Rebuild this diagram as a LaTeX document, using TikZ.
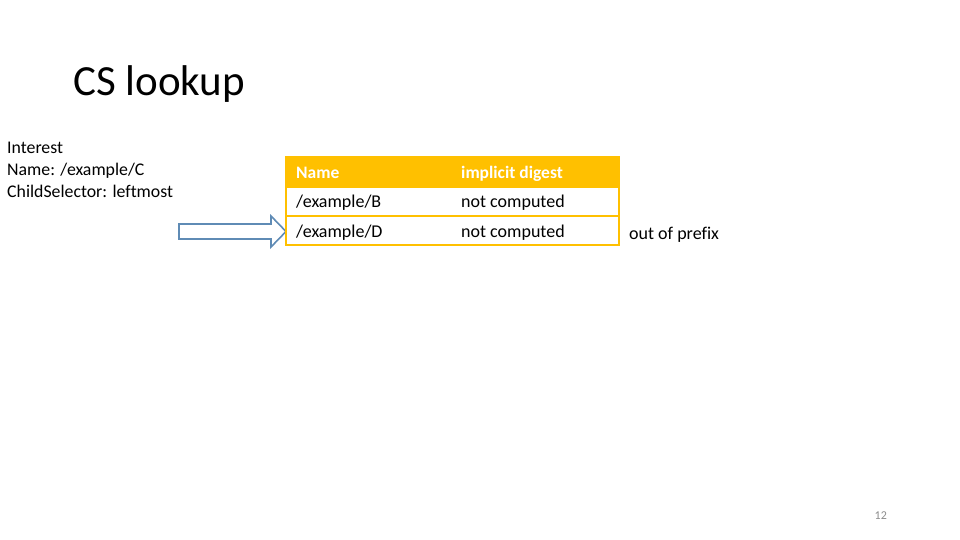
\documentclass[tikz,border=0pt]{standalone}
\usepackage{fontspec}
\setmainfont[Ligatures=NoCommon]{Carlito}
\definecolor{tblorange}{HTML}{FFC000}
\definecolor{arrowblue}{HTML}{5F8BB5}
\definecolor{pagegray}{HTML}{8C8C8C}
\begin{document}
\begin{tikzpicture}[x=1pt,y=-1pt,
  txt/.style={anchor=base west, inner sep=0pt, font=\fontsize{17.8}{21}\selectfont},
  tbltxt/.style={anchor=base west, inner sep=0pt, font=\fontsize{18}{21}\selectfont},
  hdrtxt/.style={tbltxt, font=\fontsize{17.5}{21}\selectfont\bfseries, text=white},
  rowbox/.style={draw=tblorange, line width=1.5pt, fill=white},
  hdrbox/.style={draw=tblorange, line width=1.5pt, fill=tblorange},
  blockarrow/.style={draw=arrowblue, line width=1.6pt, fill=white, line join=miter}]
\useasboundingbox (0,0) rectangle (960,540);
% title
\node[anchor=base west, inner sep=0pt, font=\fontsize{43}{50}\selectfont] (title) at (73,96) {CS lookup};
% interest
\node[txt] (int1) at (7,154) {Interest};
\node[txt] (int2) at (7,175.5) {Name: /example/C};
\node[txt] (int3) at (7,197) {ChildSelector: leftmost};
% arrow (drawn first, the table edge lies over its tip)
\coordinate (tblrow2) at (286,231.5);
\draw[blockarrow] (179,224) -- (271,224) -- (271,216) -- (tblrow2) -- (271,247) -- (271,239) -- (179,239) -- cycle;
% table
\draw[hdrbox] (286,157) rectangle (619,187);
\draw[rowbox] (286,187) rectangle (619,216);
\draw[rowbox] (286,216) rectangle (619,245);
\node[hdrtxt] (h1) at (296,178.5) {Name};
\node[hdrtxt] (h2) at (461,178.5) {implicit digest};
\node[tbltxt] (r1a) at (296,207.5) {/example/B};
\node[tbltxt] (r1b) at (461,207.5) {not computed};
\node[tbltxt] (r2a) at (296,237.5) {/example/D};
\node[tbltxt] (r2b) at (461,237.5) {not computed};
% out of prefix
\node[tbltxt] (oop) at (629,239.5) {out of prefix};
% page number
\node[anchor=base west, inner sep=0pt, font=\fontsize{12}{14}\selectfont, text=pagegray] (pg) at (874.5,519) {12};
\end{tikzpicture}
\end{document}
